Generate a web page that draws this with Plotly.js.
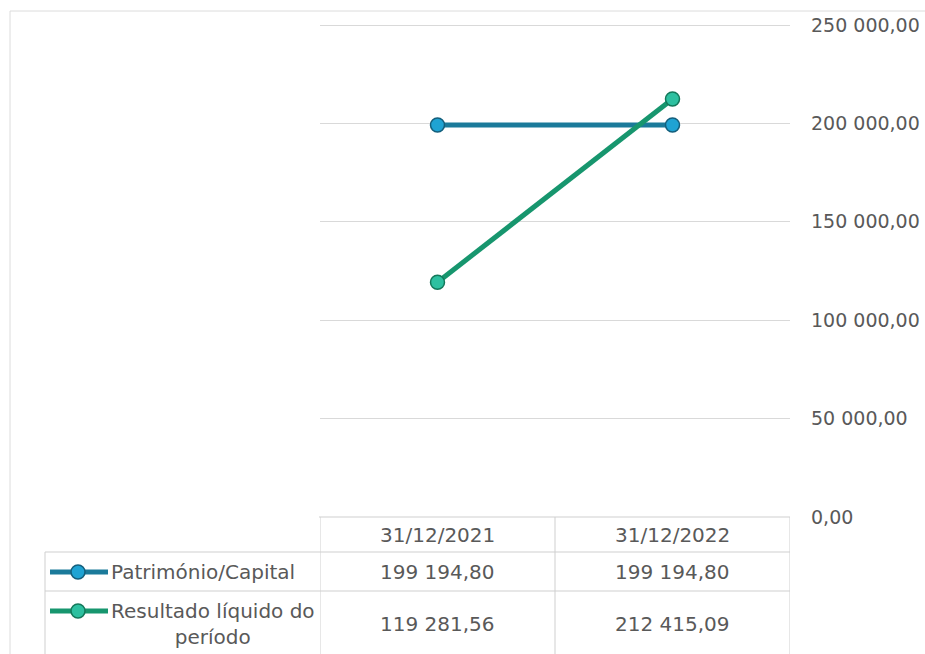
<!DOCTYPE html>
<html>
<head>
<meta charset="utf-8">
<script src="https://cdn.plot.ly/plotly-3.0.1.min.js"></script>
<style>
html,body{margin:0;padding:0;background:#fff;}
#chart{width:925px;height:654px;}
</style>
</head>
<body>
<div id="chart"></div>
<script>
// ---- data ----
const categories = ["31/12/2021", "31/12/2022"];
const seriesNames = ["Património/Capital", "Resultado líquido do<br>período"];
const patrimonio = [199194.80, 199194.80];
const resultado = [119281.56, 212415.09];
const yTickVals = [0, 50000, 100000, 150000, 200000, 250000];

function fmt(v) {
  const parts = v.toFixed(2).split(".");
  const intPart = parts[0].replace(/\B(?=(\d{3})+(?!\d))/g, " ");
  return intPart + "," + parts[1];
}

// ---- geometry ----
const W = 925, H = 654;
const M = {l: 320, r: 135, t: 22, b: 137};
const pw = W - M.l - M.r, ph = H - M.t - M.b;
const px = x => (x - M.l) / pw;
const py = y => 1 - (y - M.t) / ph;
const yMax = 250000 * ph / (ph - 3);

const textColor = "#595959";
const gridColor = "#d9d9d9";
const tableColor = "#cfcfcf";
const font = "DejaVu Sans, sans-serif";

const c1 = {line: "#1B7A9A", fill: "#1FA3D3", edge: "#145F7C"};
const c2 = {line: "#17966E", fill: "#2DC0A0", edge: "#13785A"};

const traces = [
  {x: categories, y: patrimonio, type: "scatter", mode: "lines+markers",
   name: seriesNames[0],
   line: {color: c1.line, width: 5},
   marker: {size: 14, color: c1.fill, line: {color: c1.edge, width: 1.5}}},
  {x: categories, y: resultado, type: "scatter", mode: "lines+markers",
   name: seriesNames[1],
   line: {color: c2.line, width: 5},
   marker: {size: 14, color: c2.fill, line: {color: c2.edge, width: 1.5}}}
];

// ---- table rows ----
const yHeader = 535, yRow1 = 572, yRow2 = 624;
const shapes = [];
const annotations = [];
function hline(y, x0, x1, col) {
  shapes.push({type: "line", xref: "paper", yref: "paper",
    x0: px(x0), x1: px(x1), y0: py(y), y1: py(y),
    line: {color: col || tableColor, width: 1}});
}
function vlineX(xcat, y0, y1) {
  shapes.push({type: "line", xref: "x", yref: "paper",
    x0: xcat, x1: xcat, y0: py(y0), y1: py(y1),
    line: {color: tableColor, width: 1}});
}
function vlineP(x, y0, y1, col) {
  shapes.push({type: "line", xref: "paper", yref: "paper",
    x0: px(x), x1: px(x), y0: py(y0), y1: py(y1),
    line: {color: col || tableColor, width: 1}});
}
// outer chart border
hline(11, 10, 925, "#dcdcdc");
vlineP(10, 11, 654, "#dcdcdc");
// table grid
hline(517, 319, 790);
hline(552, 45, 790);
hline(591, 45, 790);
vlineP(45, 552, 654);
vlineX(-0.5, 517, 654);
vlineX(0.5, 517, 654);
vlineX(1.5, 517, 654);

// header and values
const rows = [patrimonio, resultado];
const rowY = [yRow1, yRow2];
const rowCols = [c1, c2];
categories.forEach((c, i) => {
  annotations.push({xref: "x", yref: "paper", x: i, y: py(yHeader),
    text: c, showarrow: false, xanchor: "center", yanchor: "middle",
    font: {family: font, size: 20, color: textColor}});
  rows.forEach((r, k) => {
    annotations.push({xref: "x", yref: "paper", x: i, y: py(rowY[k]),
      text: fmt(r[i]), showarrow: false, xanchor: "center", yanchor: "middle",
      font: {family: font, size: 20, color: textColor}});
  });
});
// legend keys in table
seriesNames.forEach((n, k) => {
  const ky = k === 0 ? yRow1 : 611;
  shapes.push({type: "line", xref: "paper", yref: "paper",
    x0: px(50), x1: px(108), y0: py(ky), y1: py(ky),
    line: {color: rowCols[k].line, width: 5}});
  shapes.push({type: "circle", xref: "paper", yref: "paper",
    x0: px(71), x1: px(85), y0: py(ky + 7), y1: py(ky - 7),
    fillcolor: rowCols[k].fill, line: {color: rowCols[k].edge, width: 1.5}});
  annotations.push({xref: "paper", yref: "paper", x: px(109), y: py(k === 0 ? yRow1 : 624),
    text: n, showarrow: false, xanchor: "left", yanchor: "middle", align: "center",
    font: {family: font, size: 20, color: textColor}});
});

const layout = {
  width: W, height: H,
  margin: M,
  paper_bgcolor: "#fff", plot_bgcolor: "#fff",
  showlegend: false,
  xaxis: {type: "category", range: [-0.5, 1.5], showticklabels: false,
    showgrid: false, zeroline: false, showline: false, ticks: "", fixedrange: true},
  yaxis: {side: "right", range: [0, yMax], tickvals: yTickVals,
    ticktext: yTickVals.map(fmt), showgrid: true, gridcolor: gridColor, gridwidth: 1,
    zeroline: false, showline: false, ticks: "", ticklabelstandoff: 20,
    tickfont: {family: font, size: 19, color: textColor}},
  shapes: shapes,
  annotations: annotations
};

Plotly.newPlot("chart", traces, layout, {displayModeBar: false, staticPlot: true});
</script>
</body>
</html>
